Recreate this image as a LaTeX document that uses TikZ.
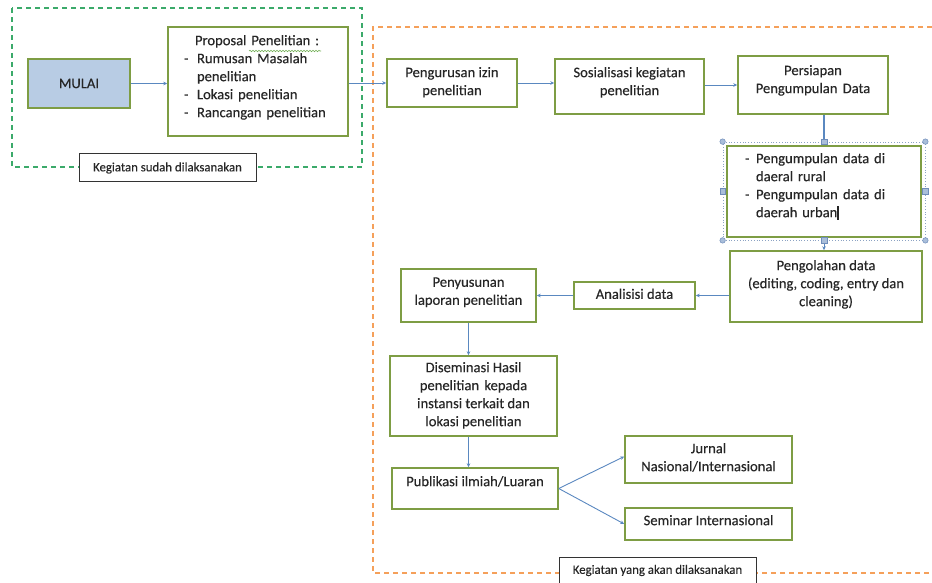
\documentclass[tikz,border=0pt]{standalone}
\usepackage{fontspec}
\setmainfont{Carlito}[FakeBold=0.25]
\usetikzlibrary{arrows.meta,decorations.pathmorphing}
\definecolor{boxgreen}{HTML}{7E9D44}
\definecolor{mulaiblue}{HTML}{B8CCE4}
\definecolor{arrowblue}{HTML}{5A88C0}
\definecolor{gdashc}{HTML}{3BAA6A}
\definecolor{odashc}{HTML}{F5A05A}
\definecolor{txt}{HTML}{262626}
\definecolor{selc}{HTML}{8CA3C4}
\definecolor{handlefill}{HTML}{A9BEDA}
\definecolor{handledraw}{HTML}{6F8DBA}
\definecolor{squig}{HTML}{6FAE52}
\newcommand{\lowstrut}[1]{\rule[-#1]{0pt}{#1}}
\newcommand{\dashitem}[1]{\makebox[#1][l]{-}}
\newcommand{\wsp}{\hspace{0.36em}}
\begin{document}
\begin{tikzpicture}[x=1pt,y=-1pt,
  gbox/.style={draw=boxgreen, line width=1.5pt, fill=white, align=center, inner sep=2pt,
               font=\fontsize{14.6}{18}\selectfont, text=txt},
  tagbox/.style={draw=black!80, line width=1pt, fill=white, inner sep=0pt,
               font=\fontsize{12.8}{14}\selectfont, text=txt},
  arr/.style={draw=arrowblue, line width=0.9pt, -{Stealth[length=4pt,width=3.6pt]}},
  plainline/.style={draw=arrowblue, line width=1.1pt},
  gdash/.style={draw=gdashc, line width=1.3pt, dash pattern=on 5pt off 4pt},
  odash/.style={draw=odashc, line width=1.1pt, dash pattern=on 5pt off 4pt},
  handlesq/.style={draw=handledraw, fill=handlefill, line width=0.5pt, minimum size=5.5pt, inner sep=0pt},
  handlecirc/.style={draw=handledraw, fill=handlefill, line width=0.5pt, circle, minimum size=5.5pt, inner sep=0pt}
]
\useasboundingbox (0,0) rectangle (932,583);

% group frames
\draw[gdash] (12,8) rectangle (362,167);
\node[tagbox, minimum width=177pt, minimum height=28pt] (done) at (167.5,168) {Kegiatan sudah dilaksanakan};
\draw[odash] (932,27) -- (373,27) -- (373,573) -- (932,573);
\node[tagbox, minimum width=197pt, minimum height=27pt] (todo) at (657.5,570.5) {Kegiatan yang akan dilaksanakan};

% boxes
\node[gbox, fill=mulaiblue, minimum width=102pt, minimum height=49pt] (mulai) at (79,83.5) {MULAI};
\node[gbox, minimum width=180pt, minimum height=109pt, text width=148pt, align=left] (prop) at (258,81.5)
  {\hspace*{11pt}Proposal Penelitian :\\
   \dashitem{13pt}Rumusan Masalah\\
   \hspace*{13pt}penelitian\\
   \dashitem{13pt}Lokasi penelitian\\
   \dashitem{13pt}Rancangan penelitian\lowstrut{10.8pt}};
\draw[squig, line width=0.6pt, decorate, decoration={snake, amplitude=0.7pt, segment length=3pt}]
  (249,51) -- (321,51);

\node[gbox, minimum width=130pt, minimum height=48pt] (izin) at (452,83)
  {Pengurusan izin\\penelitian\lowstrut{3.8pt}};
\node[gbox, minimum width=149pt, minimum height=55pt] (sosial) at (629.5,86.5)
  {Sosialisasi kegiatan\\penelitian\lowstrut{10.8pt}};
\node[gbox, minimum width=150pt, minimum height=58pt] (persiapan) at (813,85)
  {Persiapan\\Pengumpulan\wsp Data\lowstrut{11.8pt}};

% selection frame around the collection box
\node[draw=selc, line width=0.8pt, dotted, minimum width=202pt, minimum height=98pt, inner sep=0pt] (sel) at (824,191) {};
\node[gbox, minimum width=194pt, minimum height=91pt, text width=158pt, align=left] (kumpul) at (824,191.5)
  {\dashitem{11pt}Pengumpulan\wsp data di\\
   \hspace*{11pt}daeral rural\\
   \dashitem{11pt}Pengumpulan\wsp data di\\
   \hspace*{11pt}daerah urban\rule[-2.5pt]{1.2pt}{13.5pt}\lowstrut{12.8pt}};

\node[gbox, minimum width=192pt, minimum height=71pt] (olah) at (826,286.5)
  {Pengolahan data\\(editing, coding, entry dan\\cleaning)\lowstrut{6.8pt}};
\node[gbox, minimum width=121pt, minimum height=27pt] (analisis) at (634.5,295.5)
  {Analisisi data\lowstrut{3.4pt}};
\node[gbox, minimum width=135pt, minimum height=53pt] (susun) at (468.5,295.5)
  {Penyusunan\\laporan penelitian\lowstrut{8.8pt}};
\node[gbox, minimum width=167pt, minimum height=80pt] (disem) at (473.5,396)
  {Diseminasi Hasil\\penelitian\wsp kepada\\instansi terkait dan\\lokasi penelitian\lowstrut{3.8pt}};
\node[gbox, minimum width=166pt, minimum height=41pt] (publ) at (475,488.5)
  {Publikasi ilmiah/Luaran\lowstrut{14.8pt}};
\node[gbox, minimum width=167pt, minimum height=47pt] (jurnal) at (708.5,459.5)
  {Jurnal\\Nasional/Internasional\lowstrut{4.8pt}};
\node[gbox, minimum width=167pt, minimum height=32pt] (seminar) at (708.5,524)
  {Seminar Internasional\lowstrut{7.8pt}};

% connectors
\draw[arr] (mulai.east) -- (prop.west |- mulai.east);
\draw[arr] (prop.east |- izin.west) -- (izin.west);
\draw[arr] (izin.east) -- (sosial.west |- izin.east);
\draw[arr] (sosial.east |- persiapan.west) -- (persiapan.west);
\draw[plainline] (sel.north |- persiapan.south) -- (sel.north);
\draw[arr] (sel.south) -- (sel.south |- olah.north);
\draw[arr] (olah.west |- analisis.east) -- (analisis.east);
\draw[arr] (analisis.west) -- (susun.east |- analisis.west);
\draw[arr] (susun.south) -- (susun.south |- disem.north);
\draw[arr] (susun.south |- disem.south) -- (susun.south |- publ.north);
\draw[arr] (publ.east) -- ([yshift=3pt]jurnal.west);
\draw[arr] (publ.east) -- (seminar.west);

% selection handles
\node[handlecirc] (hnw) at (sel.north west) {};
\node[handlecirc] (hne) at (sel.north east) {};
\node[handlecirc] (hsw) at (sel.south west) {};
\node[handlecirc] (hse) at (sel.south east) {};
\node[handlesq] (hn) at (sel.north) {};
\node[handlesq] (hs) at (sel.south) {};
\node[handlesq] (hw) at (sel.west) {};
\node[handlesq] (he) at (sel.east) {};
\end{tikzpicture}
\end{document}
